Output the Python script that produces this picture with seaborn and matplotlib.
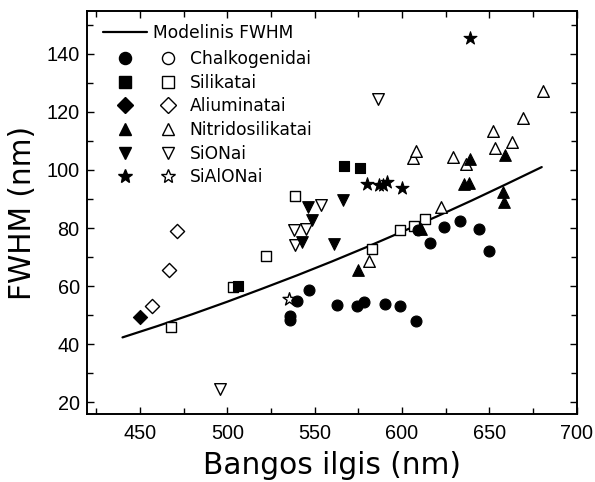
import matplotlib
matplotlib.use("Agg")
import matplotlib.pyplot as plt
from matplotlib.lines import Line2D
from matplotlib.legend_handler import HandlerTuple
from matplotlib.ticker import MultipleLocator
import seaborn as sns
import pandas as pd

# ---- data ----
model_x = [440, 460, 480, 500, 520, 540, 560, 580, 600, 620, 640, 660, 680]
model_y = [42.3, 46.2, 50.3, 54.6, 59.1, 63.7, 68.5, 73.5, 78.7, 84.0, 89.5, 95.2, 101.0]

chalk_f_x = [536, 536, 540, 547, 563, 574, 578, 590, 599, 608, 609, 616, 624, 633, 644, 650]
chalk_f_y = [49.6, 48.4, 55.0, 58.5, 53.4, 53.1, 54.4, 53.8, 53.1, 48.0, 79.3, 74.7, 80.2, 82.5, 79.7, 72.2]
chalk_o_x = []
chalk_o_y = []

sil_f_x = [506, 567, 576]
sil_f_y = [60.0, 101.4, 100.8]
sil_o_x = [468, 503, 522, 538.5, 583, 599, 607, 613]
sil_o_y = [46.0, 59.7, 70.3, 91.2, 72.6, 79.2, 80.8, 83.2]

alu_f_x = [450]
alu_f_y = [49.3]
alu_o_x = [457, 466.6, 471]
alu_o_y = [53.2, 65.5, 78.9]

nit_f_x = [575, 611, 635.7, 638.1, 639.1, 658.7, 657.9, 658.6]
nit_f_y = [65.5, 79.5, 95.3, 95.4, 103.7, 105.2, 92.3, 89.0]
nit_o_x = [581, 622.6, 606.3, 607.8, 629, 636.8, 652, 653.5, 663, 669, 681]
nit_o_y = [68.7, 87.3, 104.2, 106.4, 104.5, 102.2, 113.4, 107.6, 109.6, 117.8, 127.2]

sion_f_x = [542.6, 546, 548.6, 561.2, 566]
sion_f_y = [75.2, 87.3, 82.8, 74.6, 89.8]
sion_o_x = [495.8, 538, 538.8, 545, 553.5, 586]
sion_o_y = [24.4, 79.3, 74.3, 79.5, 88.0, 124.5]

sialon_f_x = [580, 586.6, 589, 591.5, 600, 639]
sialon_f_y = [95.3, 94.8, 94.8, 95.8, 93.7, 145.4]
sialon_o_x = [535.6]
sialon_o_y = [55.5]

labels = ["Chalkogenidai", "Silikatai", "Aliuminatai", "Nitridosilikatai", "SiONai", "SiAlONai"]
markers = ["o", "s", "D", "^", "v", "*"]
sizes = [62, 48, 52, 70, 70, 95]

groups = [
    (chalk_f_x, chalk_f_y, chalk_o_x, chalk_o_y),
    (sil_f_x, sil_f_y, sil_o_x, sil_o_y),
    (alu_f_x, alu_f_y, alu_o_x, alu_o_y),
    (nit_f_x, nit_f_y, nit_o_x, nit_o_y),
    (sion_f_x, sion_f_y, sion_o_x, sion_o_y),
    (sialon_f_x, sialon_f_y, sialon_o_x, sialon_o_y),
]

xticks = [450, 500, 550, 600, 650, 700]
yticks = [20, 40, 60, 80, 100, 120, 140]

# ---- plot ----
sns.set_style("ticks")
plt.rcParams['font.family'] = ['DejaVu Sans']
plt.rcParams['text.color'] = 'black'
plt.rcParams['axes.labelcolor'] = 'black'
plt.rcParams['xtick.color'] = 'black'
plt.rcParams['ytick.color'] = 'black'
plt.rcParams['axes.edgecolor'] = 'black'

fig = plt.figure(figsize=(5.95, 4.82), dpi=100)
ax = fig.add_axes([0.1457, 0.1405, 0.8235, 0.8367])

sns.lineplot(x=model_x, y=model_y, ax=ax, color="black", linewidth=1.6, zorder=2)

for (fx, fy, ox, oy), m, s in zip(groups, markers, sizes):
    if ox:
        sns.scatterplot(x=ox, y=oy, ax=ax, marker=m, s=s, facecolor="white",
                        edgecolor="black", linewidth=1.0, zorder=3)
    if fx:
        sns.scatterplot(x=fx, y=fy, ax=ax, marker=m, s=s, color="black",
                        edgecolor="black", linewidth=0.8, zorder=4)

ax.set_xlim(419.5, 700)
ax.set_ylim(15.8, 154.8)
ax.set_xticks(xticks)
ax.set_yticks(yticks)
ax.xaxis.set_minor_locator(MultipleLocator(25))
ax.yaxis.set_minor_locator(MultipleLocator(10))
ax.tick_params(which="both", direction="in", top=True, right=True,
               width=1.0, color="black", labelcolor="black")
ax.tick_params(which="major", length=5)
ax.tick_params(which="minor", length=4.5)
ax.tick_params(axis="x", which="major", pad=7)
ax.tick_params(axis="y", which="major", pad=5)
for lab in ax.get_xticklabels() + ax.get_yticklabels():
    lab.set_fontfamily("Liberation Sans")
    lab.set_fontsize(14.3)
for sp in ax.spines.values():
    sp.set_linewidth(1.4)
    sp.set_color("black")

ax.set_xlabel("Bangos ilgis (nm)", fontsize=21.3, labelpad=6, color="black")
ax.set_ylabel("FWHM (nm)", fontsize=21.3, labelpad=7, color="black")

# legends
leg1 = ax.legend([Line2D([], [], color="black", linewidth=1.6)], ["Modelinis FWHM"],
                 loc="upper left", bbox_to_anchor=(0.033, 0.9675), frameon=False,
                 fontsize=12.3, handlelength=2.57, handletextpad=0.35,
                 borderpad=0, borderaxespad=0, labelcolor="black")
ax.add_artist(leg1)

handles = []
for m in markers:
    ms = 8.7 if m != "*" else 10.5
    if m == "D":
        ms = 7.8
    f = Line2D([], [], linestyle="none", marker=m, markersize=ms,
               markerfacecolor="black", markeredgecolor="black")
    o = Line2D([], [], linestyle="none", marker=m, markersize=ms,
               markerfacecolor="white", markeredgecolor="black", markeredgewidth=1.0)
    handles.append((f, o))
ax.legend(handles, labels, handler_map={tuple: HandlerTuple(ndivide=None, pad=1.35)},
          loc="upper left", bbox_to_anchor=(0.0578, 0.903), frameon=False,
          fontsize=12.3, handlelength=3.68, handletextpad=0.7, labelspacing=0.33,
          borderpad=0, borderaxespad=0, labelcolor="black")

fig.savefig("out.png", dpi=100)
